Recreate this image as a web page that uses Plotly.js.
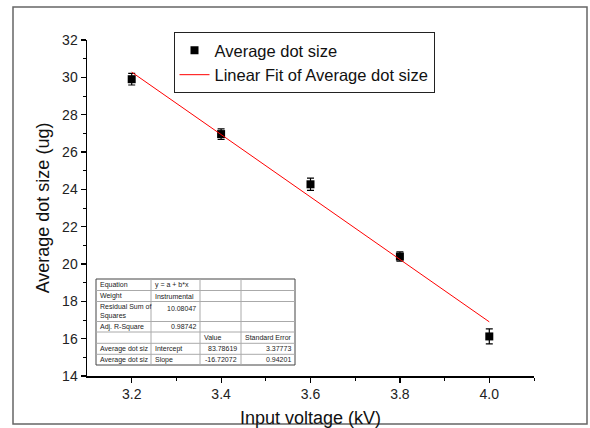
<!DOCTYPE html>
<html><head><meta charset="utf-8">
<script src="https://cdn.plot.ly/plotly-3.0.1.min.js"></script>
<style>body{margin:0;background:#fff}#c{width:590px;height:428px}</style>
</head><body><div id="c"></div>
<script>
const voltage = [3.2, 3.4, 3.6, 3.8, 4.0];
const dotSize = [29.9, 26.96, 24.27, 20.4, 16.12];
const dotErr = [0.31, 0.28, 0.33, 0.25, 0.4];
const fitX = [3.2, 4.0];
const fitY = [30.28, 16.9];
const tableRows = [
  ["Equation", "y = a + b*x", "", ""],
  ["Weight", "Instrumental", "", ""],
  ["Residual Sum of<br>Squares", "10.08047", "", ""],
  ["Adj. R-Square", "0.98742", "", ""],
  ["", "", "Value", "Standard Error"],
  ["Average dot siz", "Intercept", "83.78619", "3.37773"],
  ["Average dot siz", "Slope", "-16.72072", "0.94201"]
];

const L = 87, R = 534, T = 40, B = 376;
const W = R - L, H = B - T;
const px = v => (v - L) / W;
const py = v => (B - v) / H;

const colEdges = [96, 151, 200, 241, 295];
const rowEdges = [279, 290.5, 301.5, 321.5, 332, 343.3, 354.3, 365];
const shapes = [];
shapes.push({type:'rect', xref:'paper', yref:'paper', x0:px(13), x1:px(587), y0:py(7), y1:py(424),
  line:{color:'#666', width:1.5}, layer:'below'});
shapes.push({type:'rect', xref:'paper', yref:'paper', x0:px(colEdges[0]), x1:px(colEdges[4]),
  y0:py(rowEdges[0]), y1:py(rowEdges[7]), line:{color:'#444', width:1}, fillcolor:'#fff'});
for (let i = 1; i < colEdges.length - 1; i++) {
  shapes.push({type:'line', xref:'paper', yref:'paper', x0:px(colEdges[i]), x1:px(colEdges[i]),
    y0:py(rowEdges[0]), y1:py(rowEdges[7]), line:{color:'#aaa', width:1}});
}
for (let j = 1; j < rowEdges.length - 1; j++) {
  shapes.push({type:'line', xref:'paper', yref:'paper', x0:px(colEdges[0]), x1:px(colEdges[4]),
    y0:py(rowEdges[j]), y1:py(rowEdges[j]), line:{color:'#aaa', width:1}});
}
const annotations = [];
const rightAligned = (r, c) => (c >= 2 && r >= 5) || (c === 1 && (r === 2 || r === 3));
tableRows.forEach((row, r) => {
  row.forEach((txt, c) => {
    if (!txt) return;
    const ra = rightAligned(r, c);
    const top = r === 2;
    annotations.push({
      xref:'paper', yref:'paper', showarrow:false,
      x: ra ? px(colEdges[c+1] - 2) : px(colEdges[c] + 2),
      xanchor: ra ? 'right' : 'left',
      y: top ? py(rowEdges[r] + (c === 0 ? 10 : 1)) : py((rowEdges[r] + rowEdges[r+1]) / 2),
      yanchor: top ? (c === 0 ? 'middle' : 'top') : 'middle',
      text: txt, align:'left',
      font:{family:'Liberation Sans, Arial', size:7, color:'#222'}
    });
  });
});

const data = [
  {x: voltage, y: dotSize, type:'scatter', mode:'markers', name:'Average dot size',
   marker:{symbol:'square', size:8, color:'#000'},
   error_y:{type:'data', array:dotErr, visible:true, color:'#000', thickness:1.2, width:3.5}},
  {x: fitX, y: fitY, type:'scatter', mode:'lines', name:'Linear Fit of Average dot size',
   line:{color:'#ff0000', width:1}}
];

const layout = {
  width:590, height:428,
  margin:{l:L, r:590-R, t:T, b:428-B},
  paper_bgcolor:'#fff', plot_bgcolor:'#fff',
  font:{family:'Liberation Sans, Arial', color:'#222'},
  showlegend:true,
  legend:{x:px(173.5), y:py(32), xanchor:'left', yanchor:'top', bgcolor:'#fff',
    bordercolor:'#222', borderwidth:1, font:{size:16.5, color:'#111'}, tracegroupgap:0},
  xaxis:{range:[3.1, 4.1], tickvals:[3.2,3.4,3.6,3.8,4.0], ticktext:['3.2','3.4','3.6','3.8','4.0'],
    showgrid:false, zeroline:false, showline:true, linecolor:'#000', linewidth:1.5,
    ticks:'outside', ticklen:5, tickwidth:1.2, tickcolor:'#000',
    minor:{tickvals:[3.3,3.5,3.7,3.9,4.1], ticks:'outside', ticklen:3, tickwidth:1, tickcolor:'#000', showgrid:false},
    tickfont:{size:14, color:'#222'},
    title:{text:'Input voltage (kV)', font:{size:18, color:'#111'}, standoff:14}},
  yaxis:{range:[14, 32], dtick:2, tick0:14,
    showgrid:false, zeroline:false, showline:true, linecolor:'#000', linewidth:1.5,
    ticks:'outside', ticklen:5, tickwidth:1.2, tickcolor:'#000',
    minor:{dtick:1, ticks:'outside', ticklen:3, tickwidth:1, tickcolor:'#000', showgrid:false},
    tickfont:{size:14, color:'#222'},
    title:{text:'Average dot size (ug)', font:{size:18, color:'#111'}, standoff:8}},
  shapes: shapes,
  annotations: annotations
};
Plotly.newPlot('c', data, layout, {displayModeBar:false, staticPlot:true});
</script></body></html>
